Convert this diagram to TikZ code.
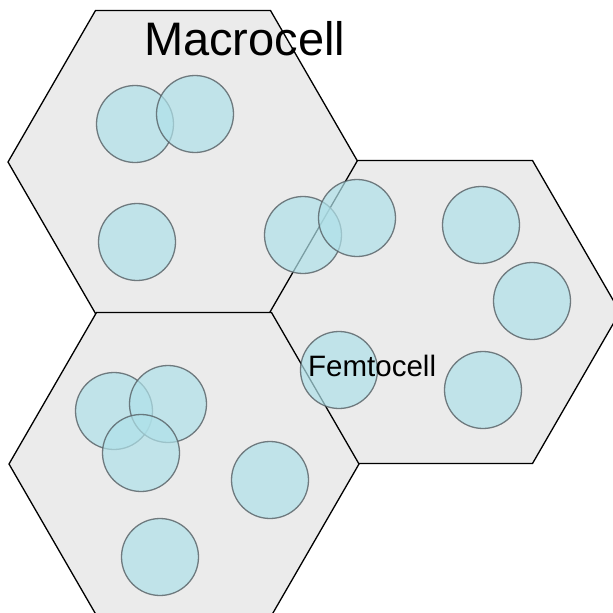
\documentclass[tikz,border=0pt]{standalone}
\usepackage{fontspec}
\setmainfont{Liberation Sans}
\begin{document}
\begin{tikzpicture}[x=1pt,y=-1pt,
  hexcell/.style={fill={rgb,255:red,235;green,235;blue,235},draw=black,line width=1.3pt,line join=miter},
  femto/.style={circle,minimum size=77pt,inner sep=0pt,fill={rgb,255:red,175;green,225;blue,233},draw={rgb,255:red,85;green,95;blue,100},line width=1.3pt,fill opacity=0.7,draw opacity=0.8},
  lbl/.style={inner sep=0pt,anchor=base west,text=black}]
\useasboundingbox (0,0) rectangle (613,613);
\clip (0,0) rectangle (613,613);
% macrocells
\foreach \cx/\cy/\n in {183/162/A,445/312/B,184/464/C}{
  \coordinate (\n0) at (\cx-175,\cy);
  \coordinate (\n1) at (\cx-87.5,\cy-151.5);
  \coordinate (\n2) at (\cx+87.5,\cy-151.5);
  \coordinate (\n3) at (\cx+175,\cy);
  \coordinate (\n4) at (\cx+87.5,\cy+151.5);
  \coordinate (\n5) at (\cx-87.5,\cy+151.5);
  \draw[hexcell] (\n0) -- (\n1) -- (\n2) -- (\n3) -- (\n4) -- (\n5) -- cycle;
}
% femtocells
\node[femto] (f1) at (135,124) {};
\node[femto] (f2) at (195,114) {};
\node[femto] (f3) at (137,242) {};
\node[femto] (f4) at (303,235) {};
\node[femto] (f5) at (357,218) {};
\node[femto] (f6) at (481,225) {};
\node[femto] (f7) at (532,301) {};
\node[femto] (f8) at (483,390) {};
\node[femto] (f9) at (339,370) {};
\node[femto] (f10) at (114,411) {};
\node[femto] (f11) at (168,404) {};
\node[femto] (f12) at (141,453) {};
\node[femto] (f13) at (270,480) {};
\node[femto] (f14) at (160,557) {};
% labels
\node[lbl,font=\fontsize{47}{50}\selectfont] (macro) at (144,55) {Macrocell};
\node[lbl,font=\fontsize{29.5}{32}\selectfont] (femtolbl) at (308,376) {Femtocell};
\end{tikzpicture}
\end{document}
